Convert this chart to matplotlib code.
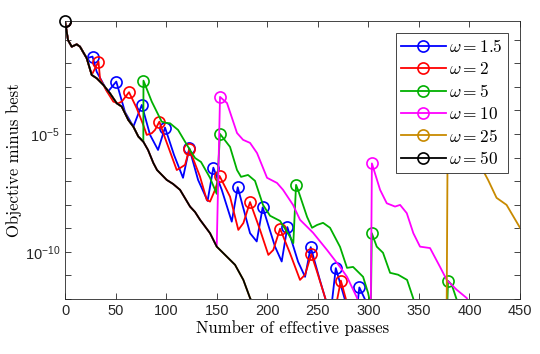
import matplotlib
matplotlib.use("Agg")
import matplotlib.pyplot as plt
import numpy as np

# values; y given as log10(objective - best)
black_x = [0, 2.97, 6.63, 11.57, 14.84, 21.46, 26.41, 31.36, 37.88, 44.51, 51.14, 56.08,
           62.61, 67.56, 72.5, 77.45, 82.1, 87.34, 91.0, 100.59, 106.83, 113.75, 123.64,
           128.59, 133.53, 143.42, 150.05, 154.3, 159.94, 168.15, 176.36, 182.99, 186.0]
black_y = [-0.21, -1.02, -1.30, -1.20, -1.30, -1.79, -2.50, -2.64, -2.92, -3.28, -3.70, -3.84,
           -4.41, -4.69, -5.11, -5.33, -5.68, -6.23, -6.53, -6.95, -7.12, -7.37, -8.08,
           -8.31, -8.64, -9.21, -9.78, -9.96, -10.20, -10.55, -11.19, -11.96, -12.2]

# omega = 25 : shares the start, then restarts late
orange_x = [200.0, 377.3, 378.6, 395.0, 410.4, 418.4, 426.8, 436.7, 450.0]
orange_y = [-13.5, -13.5, -3.9, -5.3, -6.31, -6.95, -7.71, -8.01, -8.98]

# omega = 10
magenta_x = [153.3, 160.2, 170.1, 176.1, 183.0, 189.9, 199.8, 209.7, 215.6, 225.5, 232.4,
             245.3, 259.1, 272.0, 278.9, 288.8, 295.0, 302.3, 303.5, 311.6, 318.2, 326.4,
             331.4, 338.0, 344.5, 351.1, 361.0, 370.9, 377.5, 387.4, 397.3, 400.0]
magenta_y = [-3.43, -3.69, -4.96, -5.25, -5.38, -5.81, -6.86, -7.08, -7.37, -8.01, -8.64,
             -9.19, -9.92, -10.64, -11.06, -11.95, -13.0, -13.0, -6.25, -7.37, -7.94, -8.08,
             -8.01, -8.36, -9.21, -9.78, -9.84, -10.64, -11.19, -11.61, -11.96, -12.2]
magenta_marks = [153.3, 303.5]

# omega = 5
green_x = [77.6, 85.8, 95.6, 99.9, 103.9, 111.8, 118.7, 123.6, 128.6, 134.5, 143.4, 150.0,
           153.3, 163.2, 170.1, 174.1, 181.0, 187.9, 195.8, 202.8, 212.7, 222.5, 225.8,
           228.5, 230.4, 239.4, 244.3, 249.3, 255.2, 262.1, 272.0, 278.9, 284.9, 294.8,
           299.7, 302.5, 303.4, 308.3, 314.5, 321.5, 329.4, 338.3, 344.2, 350.0, 377.5,
           378.8, 382.5, 387.4, 392.0]
green_y = [-2.74, -3.63, -4.48, -4.53, -4.55, -4.83, -5.33, -5.68, -6.02, -6.19, -6.86, -7.54,
           -5.00, -5.55, -6.53, -6.82, -6.74, -6.99, -8.01, -8.47, -8.69, -9.36, -9.63,
           -7.16, -7.37, -8.52, -8.98, -8.86, -8.77, -8.98, -9.79, -10.68, -10.64, -11.06,
           -11.74, -12.3, -9.21, -9.78, -10.04, -10.89, -10.97, -11.19, -11.95, -13.0, -13.0,
           -11.23, -11.40, -12.03, -12.5]
green_marks = [77.6, 153.3, 228.5, 303.4, 378.8]

# omega = 2
red_x = [33.1, 34.6, 40.6, 47.8, 52.7, 56.1, 63.3, 70.9, 77.4, 80.8, 85.8, 89.0, 93.3,
         98.9, 110.5, 113.7, 118.7, 123.0, 133.5, 140.2, 143.4, 148.4, 152.8, 163.2, 171.4,
         176.4, 183.0, 192.9, 201.1, 206.0, 212.7, 222.5, 232.4, 237.4, 243.6, 249.3, 262.0,
         267.0, 272.8, 281.0]
red_y = [-1.93, -2.64, -3.14, -3.63, -3.70, -3.63, -3.23, -3.91, -4.62, -5.04, -4.97, -4.83,
         -4.48, -5.17, -6.53, -6.45, -6.31, -5.64, -6.81, -7.80, -7.87, -7.37, -6.78, -7.66,
         -9.07, -8.78, -7.89, -9.07, -10.13, -9.92, -9.02, -10.06, -11.19, -10.97, -10.10,
         -10.85, -12.6, -12.5, -11.22, -12.5]
red_marks = [33.1, 63.3, 93.3, 123.0, 152.8, 183.0, 212.7, 243.6, 272.8]

# omega = 1.5
blue_x = [27.2, 31.3, 42.2, 50.7, 59.3, 67.6, 75.9, 84.1, 92.0, 98.9, 107.8, 116.7, 122.9,
          131.6, 141.0, 146.7, 155.0, 164.9, 170.8, 183.0, 189.6, 195.5, 207.7, 214.3, 219.9,
          230.5, 237.4, 243.0, 252.0, 261.0, 263.0, 267.8, 280.0, 288.5, 291.1, 302.0]
blue_y = [-1.72, -2.36, -3.22, -2.78, -4.07, -4.69, -3.77, -5.04, -5.68, -4.73, -5.89, -6.86,
          -5.61, -6.95, -7.84, -6.43, -7.37, -8.72, -7.26, -9.21, -9.56, -8.11, -9.78, -10.41,
          -8.95, -10.42, -11.06, -9.80, -11.19, -12.5, -12.5, -10.69, -12.5, -12.5, -11.51,
          -12.5]
blue_marks = [27.2, 50.7, 75.9, 98.9, 122.9, 146.7, 170.8, 195.5, 219.9, 243.0, 267.8, 291.1]

labels = [r'$\omega = 1.5$', r'$\omega = 2$', r'$\omega = 5$',
          r'$\omega = 10$', r'$\omega = 25$', r'$\omega = 50$']
colors = ['#0000ff', '#ff0000', '#00b000', '#ff00ff', '#c88a00', '#000000']


def join(prefix_end, own_x, own_y):
    # curves run on the black path until they split off
    k = sum(1 for v in black_x if v <= prefix_end)
    return list(black_x[:k]) + own_x, list(black_y[:k]) + own_y


series = [
    join(21.46, blue_x, blue_y) + ([0] + blue_marks,),
    join(26.41, red_x, red_y) + ([0] + red_marks,),
    join(77.45, green_x, green_y) + ([0] + green_marks,),
    join(150.05, magenta_x, magenta_y) + ([0] + magenta_marks,),
    join(182.99, orange_x, orange_y) + ([0, 378.6],),
    (black_x, black_y, [0]),
]

plt.rcParams['mathtext.fontset'] = 'custom'
plt.rcParams['mathtext.rm'] = 'Liberation Sans'
plt.rcParams['mathtext.it'] = 'Liberation Sans:italic'

fig = plt.figure(figsize=(5.4, 3.54), dpi=100)
ax = fig.add_axes([0.1204, 0.1554, 0.8426, 0.7853])

for (xs, ys, marks), c, lab in zip(series, colors, labels):
    xs = np.array(xs)
    ys = 10.0 ** np.array(ys)
    idx = [int(np.argmin(np.abs(xs - m))) for m in marks]
    ax.plot(xs, ys, '-', color=c, lw=1.3, marker='o', markevery=idx, ms=8,
            mfc='none', mec=c, mew=1.2, label=lab)

# starting point marker sits on the top edge, so leave it unclipped
ax.plot(black_x[0], 10.0 ** black_y[0], 'o', ms=8, mfc='none', mec='k', mew=1.2,
        clip_on=False, zorder=5)

ax.set_yscale('log')
ax.set_xlim(0, 450)
ax.set_ylim(1e-12, 10 ** -0.21)
ax.set_xticks(np.arange(0, 451, 50))
ax.set_yticks([10.0 ** e for e in range(-12, 0)])
ax.set_yticklabels(['$10^{-10}$' if e == -10 else ('$10^{-5}$' if e == -5 else '')
                    for e in range(-12, 0)])
ax.yaxis.set_minor_locator(matplotlib.ticker.NullLocator())
ax.tick_params(direction='in', top=True, right=True, length=4, width=0.6,
               colors='#262626', labelsize=10.5)
for lab in ax.get_xticklabels():
    lab.set_fontfamily('Liberation Sans')
for s in ax.spines.values():
    s.set_linewidth(0.6)
    s.set_color('#262626')

ax.set_xlabel('Number of effective passes', fontfamily='cmr10', fontsize=12, labelpad=2)
ax.set_ylabel('Objective minus best', fontfamily='cmr10', fontsize=12, labelpad=2)

leg = ax.legend(loc='upper right', bbox_to_anchor=(0.974, 0.957), fontsize=12.5,
                handlelength=2.6, handletextpad=0.2, borderpad=0.3, labelspacing=0.25,
                fancybox=False, framealpha=1, edgecolor='#262626', borderaxespad=0)
leg.get_frame().set_linewidth(0.6)
for t in leg.get_texts():
    t.set_math_fontfamily('cm')

plt.savefig('out.png', dpi=100)
plt.close()
